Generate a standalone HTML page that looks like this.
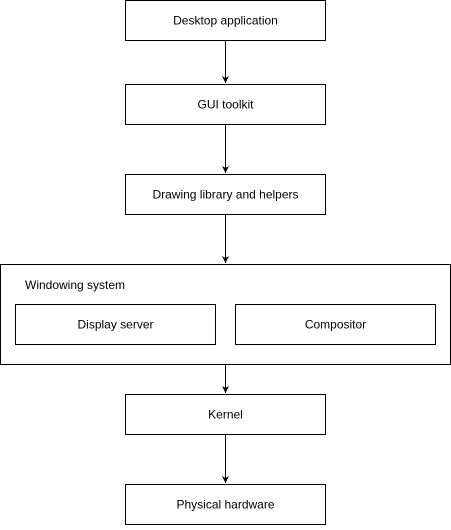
<!DOCTYPE html>
<html><head><style>html,body{margin:0;padding:0;background:#fff;}</style></head>
<body>
<svg width="451" height="525" xmlns="http://www.w3.org/2000/svg" font-family="Liberation Sans, sans-serif" font-size="12" fill="#000">
<defs><marker id="a" markerWidth="8" markerHeight="8" refX="7" refY="4" orient="auto" markerUnits="userSpaceOnUse"><path d="M0,0.5 L7,4 L0,7.5 L2,4 Z" fill="#000"/></marker></defs>
<g fill="none" stroke="#000" stroke-width="1">
<rect x="125.5" y="0.5" width="200" height="40"/>
<rect x="125.5" y="84.5" width="200" height="40"/>
<rect x="125.5" y="174.5" width="200" height="40"/>
<rect x="0.5" y="264.5" width="450" height="100"/>
<rect x="15.5" y="304.5" width="200" height="40"/>
<rect x="235.5" y="304.5" width="200" height="40"/>
<rect x="125.5" y="394.5" width="200" height="40"/>
<rect x="125.5" y="484.5" width="200" height="40"/>
<path d="M225.5 40.5V83" marker-end="url(#a)"/>
<path d="M225.5 124.5V173" marker-end="url(#a)"/>
<path d="M225.5 214.5V263" marker-end="url(#a)"/>
<path d="M225.5 364.5V393" marker-end="url(#a)"/>
<path d="M225.5 434.5V483" marker-end="url(#a)"/>
</g>
<g text-anchor="middle" stroke="none">
<text x="225.5" y="24.5">Desktop application</text>
<text x="225.5" y="108.5">GUI toolkit</text>
<text x="225.5" y="198.5">Drawing library and helpers</text>
<text x="115.5" y="328.5">Display server</text>
<text x="335.5" y="328.5">Compositor</text>
<text x="225.5" y="418.5">Kernel</text>
<text x="225.5" y="508.5">Physical hardware</text>
</g>
<text x="25" y="289">Windowing system</text>
</svg>
</body></html>
